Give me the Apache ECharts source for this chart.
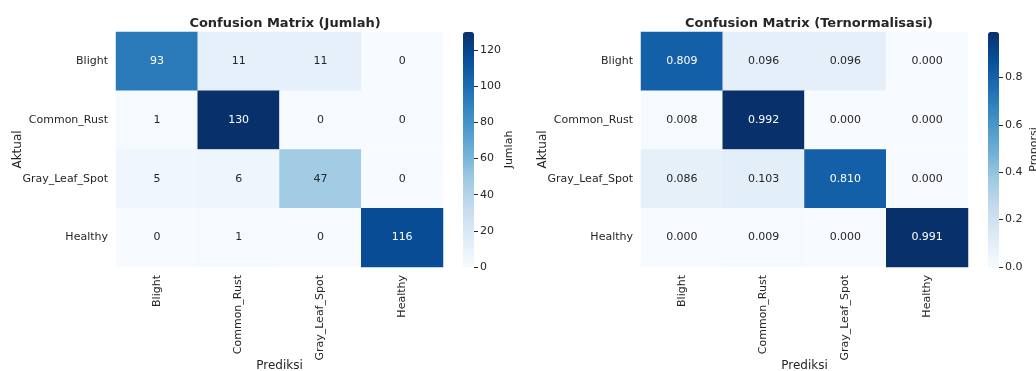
<!DOCTYPE html>
<html>
<head>
<meta charset="utf-8">
<script src="https://cdn.jsdelivr.net/npm/echarts@6/dist/echarts.min.js"></script>
<style>
  html, body { margin: 0; padding: 0; background: #fff; }
  #chart { width: 1036px; height: 371px; }
</style>
</head>
<body>
<div id="chart"></div>
<script>
const classes = ['Blight', 'Common_Rust', 'Gray_Leaf_Spot', 'Healthy'];
const countRows = [
  [93, 11, 11, 0],
  [1, 130, 0, 0],
  [5, 6, 47, 0],
  [0, 1, 0, 116],
];
const propRows = [
  [0.809, 0.096, 0.096, 0.000],
  [0.008, 0.992, 0.000, 0.000],
  [0.086, 0.103, 0.810, 0.000],
  [0.000, 0.009, 0.000, 0.991],
];
const countTicks = [0, 20, 40, 60, 80, 100, 120];
const propTicks = [0, 0.2, 0.4, 0.6, 0.8];

const blues = ['#f7fbff', '#deebf7', '#c6dbef', '#9ecae1', '#6baed6', '#4292c6', '#2171b5', '#08519c', '#08306b'];
const font = 'DejaVu Sans';
const ink = '#262626';

function cells(rows, max) {
  const out = [];
  rows.forEach((row, r) => {
    row.forEach((v, c) => {
      out.push({
        value: [c, r, v],
        label: { color: v / max > 0.5 ? '#ffffff' : ink },
      });
    });
  });
  return out;
}

const countMax = Math.max(...countRows.flat());
const propMax = Math.max(...propRows.flat());

function matrixAxes(gridIndex) {
  return {
    x: {
      type: 'category', gridIndex, data: classes,
      name: 'Prediksi', nameLocation: 'middle', nameGap: 93, nameMoveOverlap: false,
      nameTextStyle: { fontFamily: font, fontSize: 12, color: ink },
      axisLine: { show: false }, axisTick: { show: false }, splitArea: { show: false },
      axisLabel: { rotate: 90, margin: 8, fontFamily: font, fontSize: 11, color: ink },
    },
    y: {
      type: 'category', gridIndex, data: classes, inverse: true,
      name: 'Aktual', nameLocation: 'middle', nameGap: 92, nameMoveOverlap: false,
      nameTextStyle: { fontFamily: font, fontSize: 12, color: ink },
      axisLine: { show: false }, axisTick: { show: false },
      axisLabel: { margin: 8, fontFamily: font, fontSize: 11, color: ink },
    },
  };
}

function barAxes(gridIndex, max, ticks, name, fmt) {
  return {
    x: { type: 'value', gridIndex, show: false },
    y: {
      type: 'value', gridIndex, min: 0, max, position: 'right',
      name, nameLocation: 'middle', nameGap: 30, nameRotate: 90, nameMoveOverlap: false,
      nameTextStyle: { fontFamily: font, fontSize: 11, color: ink },
      axisLine: { show: false, onZero: false },
      splitLine: { show: false },
      axisTick: { show: true, inside: false, length: 4, lineStyle: { color: ink, width: 1 }, customValues: ticks },
      axisLabel: { margin: 6, fontFamily: font, fontSize: 11, color: ink, customValues: ticks, formatter: fmt },
    },
  };
}

const m0 = matrixAxes(0);
const b1 = barAxes(1, countMax, countTicks, 'Jumlah', v => String(v));
const m2 = matrixAxes(2);
const b3 = barAxes(3, propMax, propTicks, 'Proporsi', v => v.toFixed(1));

const gridBase = { top: 32, height: 235, outerBoundsMode: 'none', containLabel: false };

const option = {
  backgroundColor: '#ffffff',
  animation: false,
  title: [
    { text: 'Confusion Matrix (Jumlah)', left: 280, top: 12, textAlign: 'center',
      textStyle: { fontFamily: font, fontSize: 13, fontWeight: 'bold', color: ink } },
    { text: 'Confusion Matrix (Ternormalisasi)', left: 804, top: 12, textAlign: 'center',
      textStyle: { fontFamily: font, fontSize: 13, fontWeight: 'bold', color: ink } },
  ],
  grid: [
    { ...gridBase, left: 116, width: 327 },
    { ...gridBase, left: 463, width: 11 },
    { ...gridBase, left: 641, width: 327 },
    { ...gridBase, left: 988, width: 11 },
  ],
  xAxis: [m0.x, b1.x, m2.x, b3.x],
  yAxis: [m0.y, b1.y, m2.y, b3.y],
  visualMap: [
    { type: 'continuous', seriesIndex: 0, min: 0, max: countMax, calculable: false,
      orient: 'vertical', left: 463, top: 32, itemWidth: 11, itemHeight: 235, padding: 0,
      showLabel: false, inRange: { color: blues } },
    { type: 'continuous', seriesIndex: 1, min: 0, max: propMax, calculable: false,
      orient: 'vertical', left: 988, top: 32, itemWidth: 11, itemHeight: 235, padding: 0,
      showLabel: false, inRange: { color: blues } },
  ],
  series: [
    { type: 'heatmap', xAxisIndex: 0, yAxisIndex: 0, data: cells(countRows, countMax),
      label: { show: true, fontFamily: font, fontSize: 11, formatter: p => String(p.value[2]) } },
    { type: 'heatmap', xAxisIndex: 2, yAxisIndex: 2, data: cells(propRows, propMax),
      label: { show: true, fontFamily: font, fontSize: 11, formatter: p => p.value[2].toFixed(3) } },
  ],
};

const chart = echarts.init(document.getElementById('chart'));
chart.setOption(option);
</script>
</body>
</html>
